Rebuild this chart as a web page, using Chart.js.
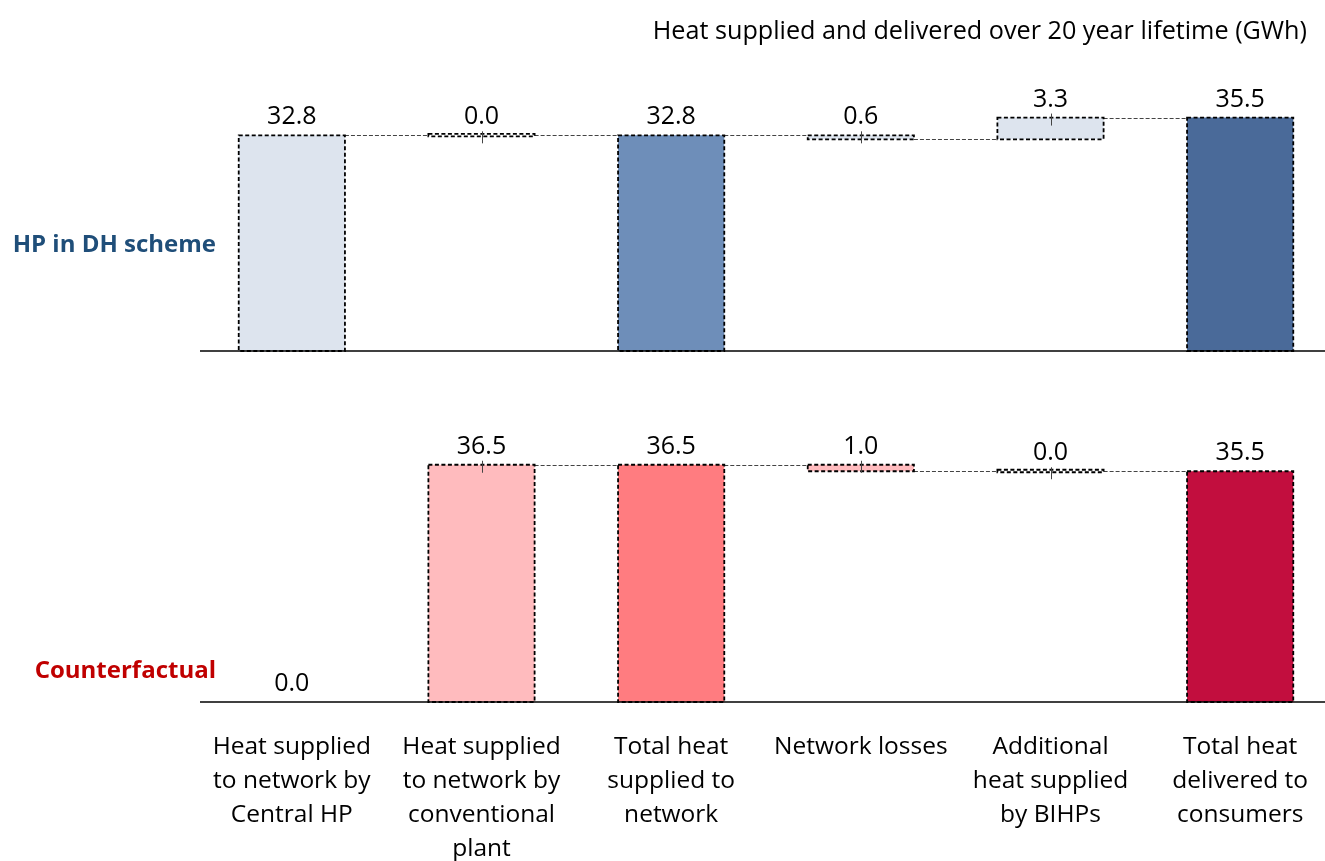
<!DOCTYPE html>
<html><head><meta charset="utf-8">
<script src="https://cdn.jsdelivr.net/npm/chart.js@4.4.0/dist/chart.umd.min.js"></script>
<style>
html,body{margin:0;padding:0;background:#fff;overflow:hidden;width:1325px;height:861px;position:relative}
#topChart{position:absolute;left:0;top:0}
#botChart{position:absolute;left:0;top:380px}
</style></head><body>
<canvas id="topChart" width="1340" height="380"></canvas>
<canvas id="botChart" width="1340" height="481"></canvas>
<script>
// ---- data ----
const categories = [
  ["Heat supplied", "to network by", "Central HP"],
  ["Heat supplied", "to network by", "conventional", "plant"],
  ["Total heat", "supplied to", "network"],
  ["Network losses"],
  ["Additional", "heat supplied", "by BIHPs"],
  ["Total heat", "delivered to", "consumers"]
];
const stepTypes = ["delta", "delta", "total", "delta", "delta", "total"];
const hpSteps = [32.8, 0.0, 32.8, -0.6, 3.3, 35.5];
const cfSteps = [0.0, 36.5, 36.5, -1.0, 0.0, 35.5];
const hpColors = ["#DDE4EE", "#DDE4EE", "#6E8EB9", "#DDE4EE", "#DDE4EE", "#4A6A99"];
const cfColors = ["#FFBBBE", "#FFBBBE", "#FF7C80", "#FFBBBE", "#FFBBBE", "#C20E3E"];
const headingText = "Heat supplied and delivered over 20 year lifetime (GWh)";
const panelNames = ["HP in DH scheme", "Counterfactual"];
const panelColors = ["#1F4E79", "#C00000"];

function floating(steps) {
  let run = 0;
  return steps.map((v, i) => {
    if (stepTypes[i] === "total") { run = v; return [0, v]; }
    const s = run; run = Math.round((run + v) * 100) / 100; return [s, run];
  });
}

const FONT = "'Open Sans', 'DejaVu Sans', sans-serif";

function waterfallPlugin(steps, panelIdx, opts) {
  return {
    id: "wf" + panelIdx,
    afterDatasetsDraw(chart) {
      const ctx = chart.ctx;
      const meta = chart.getDatasetMeta(0);
      const ys = chart.scales.y, xs = chart.scales.x;
      const ranges = chart.data.datasets[0].data;
      ctx.save();
      // connectors
      ctx.strokeStyle = "#444"; ctx.lineWidth = 1.1; ctx.setLineDash([4, 2]);
      for (let i = 0; i < meta.data.length - 1; i++) {
        if (ranges[i][1] === 0) continue;
        const a = meta.data[i].getProps(["x", "width"], true);
        const b = meta.data[i + 1].getProps(["x", "width"], true);
        const yy = Math.round(ys.getPixelForValue(ranges[i][1])) + 0.5;
        ctx.beginPath(); ctx.moveTo(a.x + a.width / 2, yy); ctx.lineTo(b.x - b.width / 2, yy); ctx.stroke();
      }
      // dashed borders
      ctx.strokeStyle = "#000"; ctx.lineWidth = 1.8; ctx.setLineDash([4, 2.5]);
      meta.data.forEach((el, i) => {
        if (panelIdx === 1 && i === 0) return;
        const p = el.getProps(["x", "y", "base", "width"], true);
        let top = Math.min(p.y, p.base), h = Math.abs(p.base - p.y);
        if (h < 2.5) { top -= 1.5; h = 2.5; }
        ctx.strokeRect(p.x - p.width / 2, top, p.width, h);
      });
      // leader ticks for change bars
      ctx.setLineDash([]); ctx.strokeStyle = "#444"; ctx.lineWidth = 1;
      meta.data.forEach((el, i) => {
        if (stepTypes[i] !== "delta" || i === 0) return;
        const p = el.getProps(["x", "y", "base"], true);
        const top = Math.min(p.y, p.base);
        ctx.beginPath(); ctx.moveTo(Math.round(p.x) + 0.5, top - 4); ctx.lineTo(Math.round(p.x) + 0.5, top + 8); ctx.stroke();
      });
      // value labels
      ctx.fillStyle = "#000"; ctx.font = "25px " + FONT; ctx.textAlign = "center"; ctx.textBaseline = "middle";
      meta.data.forEach((el, i) => {
        const p = el.getProps(["x"], true);
        const hi = Math.max(ranges[i][0], ranges[i][1]);
        ctx.fillText(Math.abs(steps[i]).toFixed(1), p.x, ys.getPixelForValue(hi) - 18);
      });
      // baseline
      const y0 = Math.round(ys.getPixelForValue(0));
      ctx.strokeStyle = "#000"; ctx.lineWidth = 1.6;
      ctx.beginPath(); ctx.moveTo(200, y0); ctx.lineTo(chart.width, y0); ctx.stroke();
      // panel name
      ctx.font = "bold 24px " + FONT; ctx.fillStyle = panelColors[panelIdx]; ctx.textAlign = "right";
      ctx.fillText(panelNames[panelIdx], 216, opts.nameY);
      // heading
      if (opts.heading) {
        ctx.font = "25.2px " + FONT; ctx.fillStyle = "#000"; ctx.textAlign = "right";
        ctx.fillText(headingText, 1307, 32);
      }
      // category labels
      if (opts.categories) {
        ctx.font = "24.5px " + FONT; ctx.fillStyle = "#000"; ctx.textAlign = "center";
        categories.forEach((lines, i) => {
          const x = xs.getPixelForValue(i);
          lines.forEach((t, k) => ctx.fillText(t, x, y0 + 45 + k * 34));
        });
      }
      ctx.restore();
    }
  };
}

function makeChart(id, steps, colors, panelIdx, padding, opts) {
  return new Chart(document.getElementById(id), {
    type: "bar",
    data: {
      labels: categories.map(c => c.join(" ")),
      datasets: [{ data: floating(steps), backgroundColor: colors, borderWidth: 0, barPercentage: 0.56, categoryPercentage: 1 }]
    },
    options: {
      responsive: false, animation: false, devicePixelRatio: 1,
      layout: { padding },
      plugins: { legend: { display: false }, tooltip: { enabled: false }, title: { display: false } },
      scales: {
        x: { display: false },
        y: { display: false, min: 0, max: 40 }
      }
    },
    plugins: [waterfallPlugin(steps, panelIdx, opts)]
  });
}

makeChart("topChart", hpSteps, hpColors, 0, { left: 197, right: 5, top: 88, bottom: 29 }, { nameY: 245, heading: true });
makeChart("botChart", cfSteps, cfColors, 1, { left: 197, right: 5, top: 62, bottom: 159 }, { nameY: 671 - 380, categories: true });
</script>
</body></html>
